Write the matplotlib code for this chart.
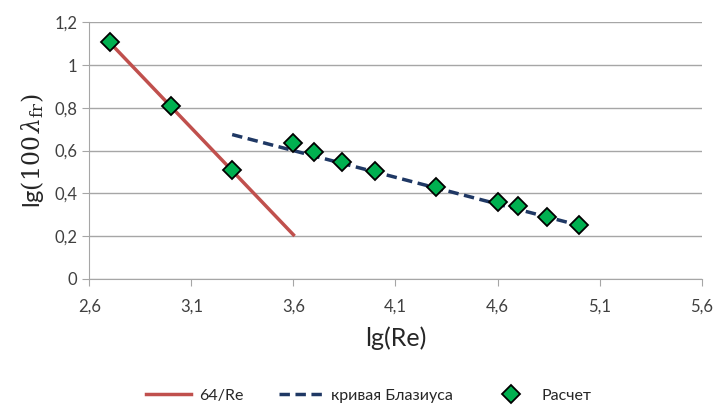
import matplotlib
matplotlib.use("Agg")
import matplotlib.pyplot as plt
from matplotlib.ticker import FuncFormatter

plt.rcParams['font.family'] = ['Lato', 'DejaVu Sans']
plt.rcParams['mathtext.fontset'] = 'dejavuserif'

# 64/Re line (laminar)
lam_x = [2.7, 3.6]
lam_y = [1.106, 0.206]

# Blasius curve
blas_x = [3.3, 5.0]
blas_y = [0.675, 0.25]

# calculated points
calc_x = [2.7, 3.0, 3.3, 3.6, 3.7, 3.84, 4.0, 4.3, 4.6, 4.7, 4.84, 5.0]
calc_y = [1.11, 0.81, 0.51, 0.634, 0.592, 0.548, 0.504, 0.431, 0.358, 0.342, 0.288, 0.252]

fig = plt.figure(figsize=(7.23, 4.07), dpi=100)
ax = fig.add_axes([0.1235, 0.315, 0.847, 0.63])

ax.plot(lam_x, lam_y, color='#C0504D', lw=2.5, label='64/Re', zorder=3)
ax.plot(blas_x, blas_y, color='#1F3864', lw=2.5, ls=(0, (3, 1.6)), label='кривая Блазиуса', zorder=3)
ax.plot(calc_x, calc_y, ls='none', marker='D', ms=9, mfc='#00B050', mec='black', mew=1.3,
        label='Расчет', zorder=4)

ax.set_xlim(2.6, 5.6)
ax.set_ylim(0, 1.2)
ax.set_xticks([2.6, 3.1, 3.6, 4.1, 4.6, 5.1, 5.6])
ax.set_yticks([0, 0.2, 0.4, 0.6, 0.8, 1.0, 1.2])

def comma(v, pos):
    s = ('%.1f' % v).replace('.', ',')
    if s.endswith(',0'):
        s = s[:-2]
    return s

ax.xaxis.set_major_formatter(FuncFormatter(comma))
ax.yaxis.set_major_formatter(FuncFormatter(comma))

ax.grid(axis='y', color='#A6A6A6', lw=1)
ax.set_axisbelow(True)
for s in ['top', 'right']:
    ax.spines[s].set_visible(False)
for s in ['left', 'bottom']:
    ax.spines[s].set_color('#A6A6A6')
ax.tick_params(axis='both', colors='#A6A6A6', labelcolor='#404040', labelsize=12, length=5)
ax.tick_params(axis='x', pad=9)

ax.set_xlabel('lg(Re)', fontsize=18, color='#262626', labelpad=9)
ax.set_ylabel(r'lg$(100\,\lambda_{\mathrm{fr}})$', fontsize=17, color='#262626', labelpad=6)

fig.legend(loc='center', bbox_to_anchor=(0.51, 0.028), ncol=3, frameon=False, fontsize=11.5,
           handlelength=2.8, handletextpad=0.5, columnspacing=2.2, labelcolor='#262626')

fig.savefig('out.png', dpi=100)
